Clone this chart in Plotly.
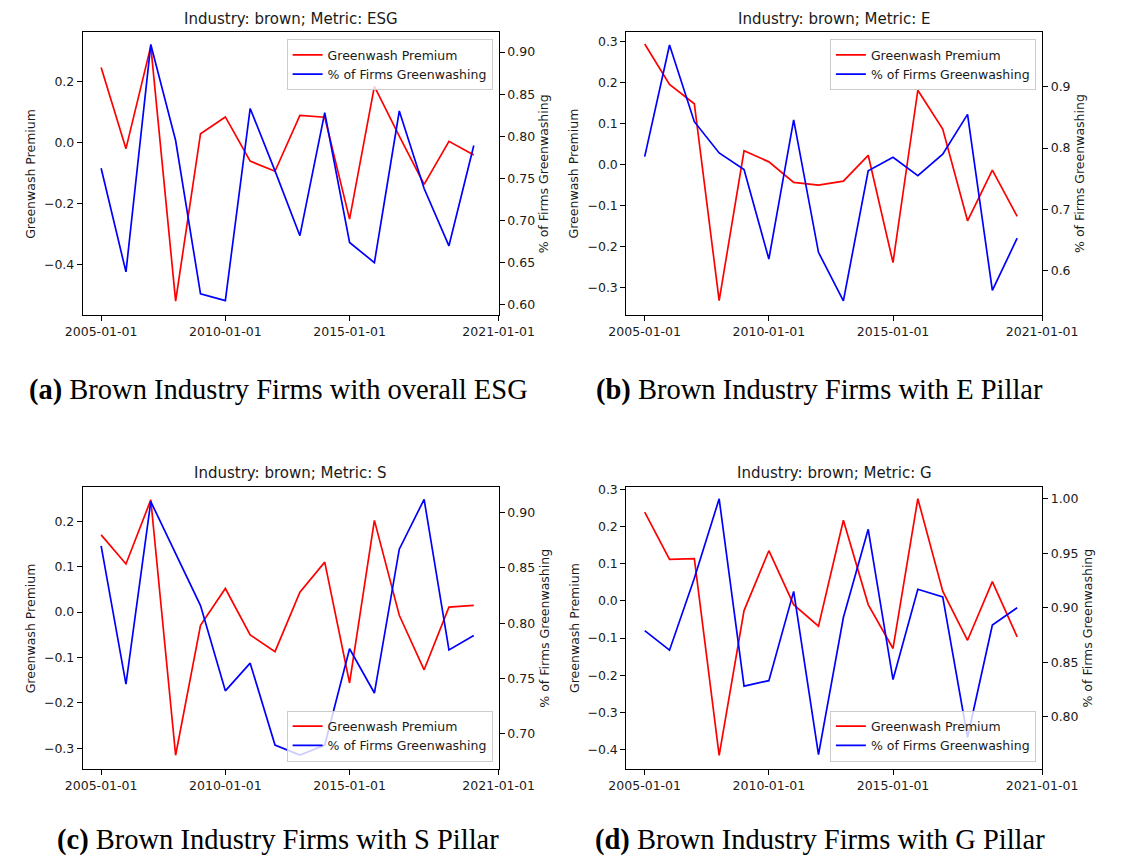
import plotly.graph_objects as go

# ---------------- data ----------------
YEARS = ["2005-01-01", "2006-01-01", "2007-01-01", "2008-01-01", "2009-01-01",
         "2010-01-01", "2011-01-01", "2012-01-01", "2013-01-01", "2014-01-01",
         "2015-01-01", "2016-01-01", "2017-01-01", "2018-01-01", "2019-01-01",
         "2020-01-01"]
X_TICKS = ["2005-01-01", "2010-01-01", "2015-01-01", "2021-01-01"]

ESG_PREMIUM = [0.245, -0.021, 0.315, -0.521, 0.028, 0.083, -0.062, -0.095,
               0.088, 0.082, -0.252, 0.183, 0.020, -0.138, 0.003, -0.042]
ESG_PCT = [0.762, 0.639, 0.909, 0.795, 0.613, 0.605, 0.833, 0.759,
           0.682, 0.828, 0.674, 0.650, 0.830, 0.738, 0.670, 0.789]

E_PREMIUM = [0.295, 0.196, 0.149, -0.332, 0.034, 0.007, -0.043, -0.050,
             -0.040, 0.023, -0.239, 0.182, 0.087, -0.137, -0.013, -0.126]
E_PCT = [0.786, 0.968, 0.843, 0.792, 0.765, 0.619, 0.846, 0.630,
         0.551, 0.763, 0.785, 0.755, 0.790, 0.855, 0.568, 0.653]

S_PREMIUM = [0.170, 0.106, 0.247, -0.315, -0.029, 0.052, -0.050, -0.087,
             0.044, 0.110, -0.156, 0.202, -0.007, -0.127, 0.011, 0.015]
S_PCT = [0.870, 0.745, 0.910, 0.863, 0.816, 0.739, 0.764, 0.690,
         0.681, 0.690, 0.777, 0.737, 0.867, 0.912, 0.776, 0.789]

G_PREMIUM = [0.239, 0.112, 0.114, -0.416, -0.026, 0.135, -0.010, -0.068,
             0.217, -0.010, -0.128, 0.275, 0.026, -0.106, 0.052, -0.097]
G_PCT = [0.879, 0.861, 0.927, 1.000, 0.828, 0.833, 0.915, 0.765,
         0.891, 0.972, 0.834, 0.917, 0.910, 0.781, 0.884, 0.900]

TITLES = ["Industry: brown; Metric: ESG", "Industry: brown; Metric: E",
          "Industry: brown; Metric: S", "Industry: brown; Metric: G"]
CAPTION_TAGS = ["(a)", "(b)", "(c)", "(d)"]
CAPTIONS = ["Brown Industry Firms with overall ESG", "Brown Industry Firms with E Pillar",
            "Brown Industry Firms with S Pillar", "Brown Industry Firms with G Pillar"]
LEFT_LABEL = "Greenwash Premium"
RIGHT_LABEL = "% of Firms Greenwashing"
NAME_PREMIUM = "Greenwash Premium"
NAME_PCT = "% of Firms Greenwashing"

# ---------------- layout helpers ----------------
W, H = 1131, 863


def fx(p):
    return p / W


def fy(p):
    return 1 - p / H


# panel boxes in pixels: (x0, x1, ytop, ybottom)
BOXES = [(69.0, 505.5, 27.3, 311.7), (639.3, 1075.6, 27.3, 311.7),
         (69.0, 505.5, 485.0, 768.3), (639.3, 1075.6, 485.0, 768.3)]
LEFT_RANGES = [(-0.566, 0.361), (-0.367, 0.324), (-0.345, 0.275), (-0.452, 0.306)]
RIGHT_RANGES = [(0.588, 0.9236), (0.528, 0.989), (0.6685, 0.923), (0.752, 1.0107)]
LEFT_DTICK = [0.2, 0.1, 0.1, 0.1]
RIGHT_DTICK = [0.05, 0.1, 0.05, 0.05]
RIGHT_FMT = [".2f", ".1f", ".2f", ".2f"]
RIGHT_TITLE_OFF = [47, 39, 47, 47.5]
LEGEND_POS = [(499, 34.5), (1069, 34.5), (499, 761), (1069, 761)]  # right, top/bottom
LEGEND_YANCHOR = ["top", "top", "bottom", "bottom"]
TITLE_Y = [14, 14, 471, 471]
CAPTION_POS = [(274, 387), (842, 387), (274, 840), (842, 840)]

X_RANGE = ["2004-04-06", "2021-01-03"]

PREMIUMS = [ESG_PREMIUM, E_PREMIUM, S_PREMIUM, G_PREMIUM]
PCTS = [ESG_PCT, E_PCT, S_PCT, G_PCT]

TXT = "#1a1a1a"
FONT = "DejaVu Sans"
FS = 12.5

fig = go.Figure()
annotations = []
layout = dict(
    width=W, height=H,
    margin=dict(l=0, r=0, t=0, b=0),
    paper_bgcolor="white", plot_bgcolor="white",
    font=dict(family=FONT, size=FS, color=TXT),
    showlegend=True,
)

for i in range(4):
    x0, x1, yt, yb = BOXES[i]
    xa = "x" if i == 0 else f"x{i + 1}"
    yl_n = 2 * i + 1
    yr_n = 2 * i + 2
    yl = "y" if yl_n == 1 else f"y{yl_n}"
    yr = f"y{yr_n}"
    leg = "legend" if i == 0 else f"legend{i + 1}"

    fig.add_trace(go.Scatter(x=YEARS, y=PREMIUMS[i], mode="lines", name=NAME_PREMIUM,
                             line=dict(color="#ff0000", width=1.7),
                             xaxis=xa, yaxis=yl, legend=leg))
    fig.add_trace(go.Scatter(x=YEARS, y=PCTS[i], mode="lines", name=NAME_PCT,
                             line=dict(color="#0000ff", width=1.7),
                             xaxis=xa, yaxis=yr, legend=leg))

    xkey = "xaxis" if i == 0 else f"xaxis{i + 1}"
    ylkey = "yaxis" if yl_n == 1 else f"yaxis{yl_n}"
    yrkey = f"yaxis{yr_n}"
    axis_common = dict(showline=True, linecolor="black", linewidth=1,
                       ticks="outside", ticklen=5, tickwidth=1, tickcolor="black",
                       showgrid=False, zeroline=False,
                       tickfont=dict(family=FONT, size=FS, color=TXT))
    layout[xkey] = dict(axis_common, domain=[fx(x0), fx(x1)], anchor=yl,
                        type="date", range=X_RANGE, mirror=True,
                        tickvals=X_TICKS, ticktext=X_TICKS)
    layout[ylkey] = dict(axis_common, domain=[fy(yb), fy(yt)], anchor=xa,
                         range=list(LEFT_RANGES[i]), dtick=LEFT_DTICK[i], tick0=0,
                         tickformat=".1f", side="left")
    layout[yrkey] = dict(axis_common, domain=[fy(yb), fy(yt)], anchor=xa,
                         overlaying=yl, side="right",
                         range=list(RIGHT_RANGES[i]), dtick=RIGHT_DTICK[i], tick0=0,
                         tickformat=RIGHT_FMT[i])

    lx, ly = LEGEND_POS[i]
    layout[leg] = dict(x=fx(lx), y=fy(ly),
                       xanchor="right", yanchor=LEGEND_YANCHOR[i],
                       bgcolor="rgba(255,255,255,0.8)", bordercolor="#cccccc", borderwidth=1,
                       font=dict(family=FONT, size=FS, color=TXT),
                       tracegroupgap=0, itemwidth=30)

    # subplot title
    annotations.append(dict(x=fx((x0 + x1) / 2), y=fy(TITLE_Y[i]), xref="paper", yref="paper",
                            text=TITLES[i], showarrow=False, xanchor="center",
                            yanchor="middle",
                            font=dict(family=FONT, size=15, color=TXT)))
    # axis titles
    yc = (yt + yb) / 2
    annotations.append(dict(x=fx(x0 - 55), y=fy(yc), xref="paper", yref="paper",
                            text=LEFT_LABEL, showarrow=False, textangle=-90,
                            xanchor="center", yanchor="middle",
                            font=dict(family=FONT, size=FS, color=TXT)))
    annotations.append(dict(x=fx(x1 + RIGHT_TITLE_OFF[i]), y=fy(yc), xref="paper", yref="paper",
                            text=RIGHT_LABEL, showarrow=False, textangle=-90,
                            xanchor="center", yanchor="middle",
                            font=dict(family=FONT, size=FS, color=TXT)))
    # caption
    cx, cy = CAPTION_POS[i]
    annotations.append(dict(x=fx(cx), y=fy(cy), xref="paper", yref="paper",
                            text=f"<b>{CAPTION_TAGS[i]}</b> {CAPTIONS[i]}",
                            showarrow=False, xanchor="center", yanchor="middle",
                            font=dict(family="Liberation Serif", size=28.5, color="black")))

layout["annotations"] = annotations
fig.update_layout(**layout)

fig.write_html("out.html", config={"displayModeBar": False},
               post_script="document.body.style.margin='0';")
